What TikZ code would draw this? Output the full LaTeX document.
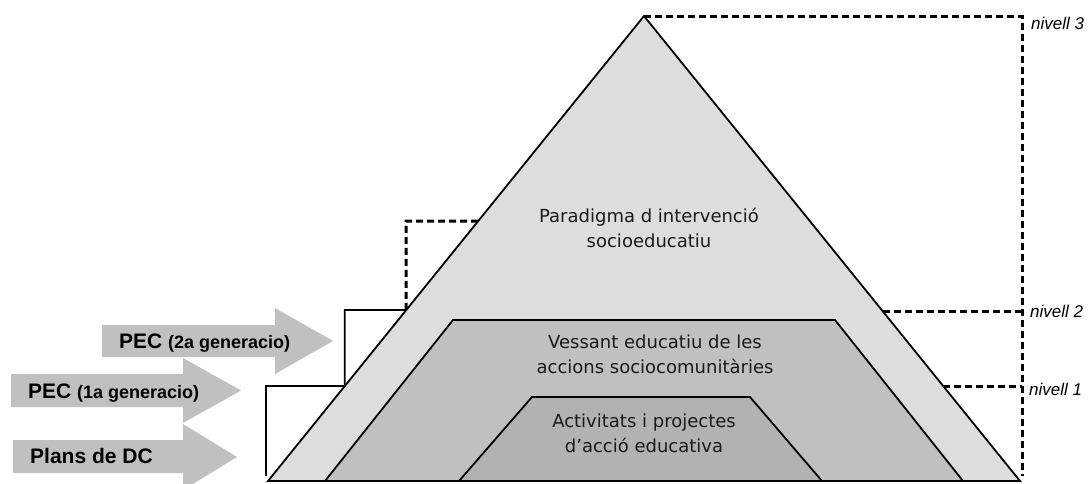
\documentclass[tikz,border=0pt]{standalone}
\usepackage{fontspec}
\setmainfont{Liberation Sans}
\newfontfamily\pyrfont{DejaVu Sans}
\usetikzlibrary{calc}
\definecolor{layerA}{HTML}{DDDDDD}
\definecolor{layerB}{HTML}{C0C0C0}
\definecolor{layerC}{HTML}{B2B2B2}
\definecolor{arrowgray}{HTML}{C0C0C0}
\definecolor{txtgray}{HTML}{1A1A1A}
\begin{document}
\begin{tikzpicture}[x=1pt,y=-1pt,
  layer/.style={draw=black, line width=1.8pt, line join=miter},
  lvl/.style={draw=black, line width=3pt, dash pattern=on 7pt off 4pt},
  stair/.style={draw=black, line width=1.8pt},
  bigarrow/.style={fill=arrowgray, draw=none},
  pyrtext/.style={font=\pyrfont\fontsize{18}{24.5}\selectfont, align=center, anchor=base, inner sep=0pt, text=txtgray},
  arrowtext/.style={font=\bfseries\fontsize{21}{24}\selectfont, anchor=base west, inner sep=0pt},
  lvltext/.style={font=\itshape\fontsize{17}{19}\selectfont, anchor=west, inner sep=0pt}]
\useasboundingbox (0,0) rectangle (1090,483);
% pyramid corners
\coordinate (A) at (644,16);
\coordinate (BL) at (268,481);
\coordinate (BR) at (1020,481);
% middle layer
\coordinate (MBL) at (325,481);
\coordinate (MTL) at (453,320);
\coordinate (MTR) at (835,320);
\coordinate (MBR) at (963,481);
% inner layer
\coordinate (IBL) at (459,481);
\coordinate (ITL) at (532,397);
\coordinate (ITR) at (750,397);
\coordinate (IBR) at (822,481);
% layers
\path[layer, fill=layerA] (BL) -- (A) -- (BR) -- cycle;
\path[layer, fill=layerB] (MBL) -- (MTL) -- (MTR) -- (MBR) -- cycle;
\path[layer, fill=layerC] (IBL) -- (ITL) -- (ITR) -- (IBR) -- cycle;
% edge points
\coordinate (L3) at ($(BL)!0.5591!(A)$);
\coordinate (L2) at ($(BL)!0.3677!(A)$);
\coordinate (L1) at ($(BL)!0.2043!(A)$);
\coordinate (R2) at ($(BR)!0.3656!(A)$);
\coordinate (R1) at ($(BR)!0.2043!(A)$);
\coordinate (RV) at (1022,16);
\coordinate (RVb) at (1022,476);
\coordinate (LD) at (406,221);
\coordinate (LDb) at (406,310);
\coordinate (S1) at (266,386);
\coordinate (S1b) at (266,476);
% right level lines
\draw[lvl] (A) -- (RV) -- (RVb);
\draw[lvl] (R2) -- (R2 -| RV);
\draw[lvl] (R1) -- (R1 -| RV);
% left level lines
\draw[lvl] (L3) -- (LD) -- (LDb);
\draw[stair] (L2) -- (L2 -| L1) -- (L1) -- (S1) -- (S1b);
% arrows
\path[bigarrow] (102,325) -- (275,325) -- (275,308) -- (333,341) -- (275,374) -- (275,357) -- (102,357) -- cycle;
\path[bigarrow] (11,374) -- (183,374) -- (183,358) -- (241,390.5) -- (183,423) -- (183,407) -- (11,407) -- cycle;
\path[bigarrow] (13,440) -- (183,440) -- (183,424) -- (237,457) -- (183,490) -- (183,473) -- (13,473) -- cycle;
\node[arrowtext] (a2) at (119,348) {PEC {\fontsize{18}{20}\selectfont(2a generacio)}};
\node[arrowtext] (a1) at (28,398) {PEC {\fontsize{18}{20}\selectfont(1a generacio)}};
\node[arrowtext] (a0) at (30,463) {Plans de DC};
% pyramid texts (anchor = baseline of the last line)
\node[pyrtext] (t3) at (649,247) {Paradigma d intervenció\\socioeducatiu};
\node[pyrtext] (t2) at (655,373) {Vessant educatiu de les\\accions sociocomunitàries};
\node[pyrtext] (t1) at (644,452) {Activitats i projectes\\d’acció educativa};
% level labels
\node[lvltext] (n3) at (1031,23) {nivell 3};
\node[lvltext] (n2) at (1030,311) {nivell 2};
\node[lvltext] (n1) at (1029,389) {nivell 1};
\end{tikzpicture}
\end{document}
